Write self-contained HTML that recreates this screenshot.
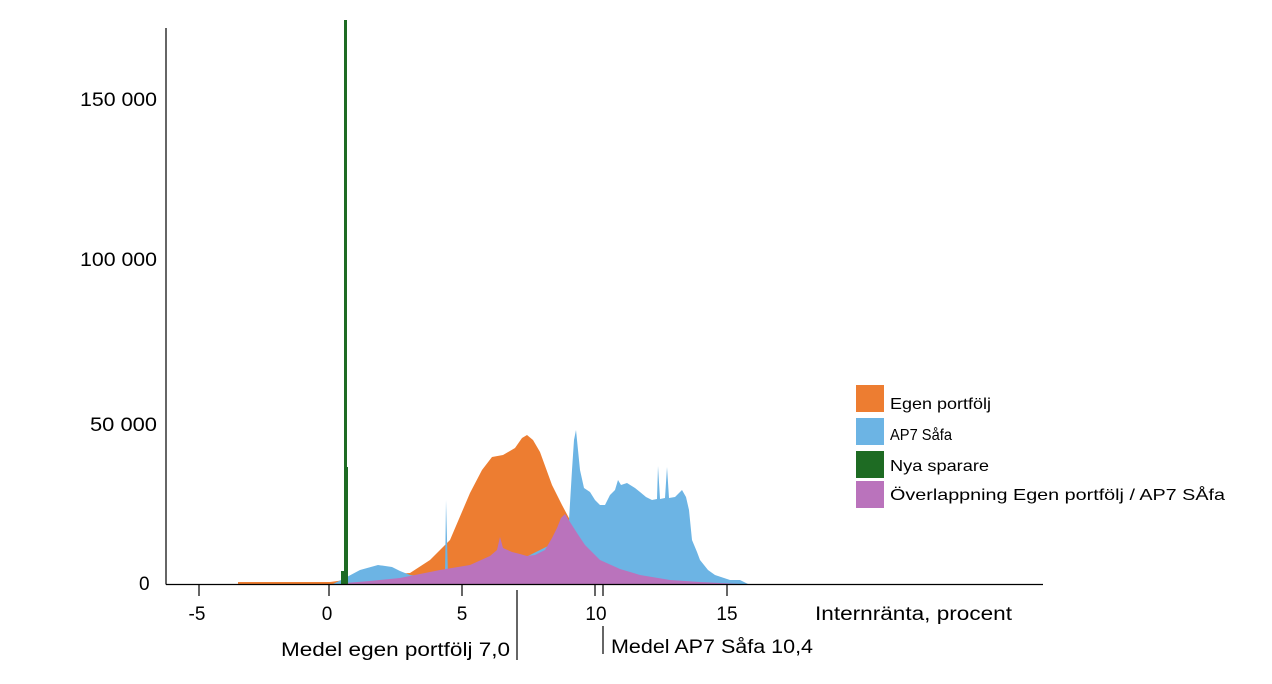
<!DOCTYPE html>
<html><head><meta charset="utf-8"><style>
body{margin:0;background:#fff;}
svg{display:block;font-family:"Liberation Sans",sans-serif;}
</style></head><body>
<svg width="1272" height="684" viewBox="0 0 1272 684">
<polygon fill="#ED7D31" points="238,584 238,582 330,582 345,580 380,575 410,573 430,560 450,540 470,493 482,470 492,457 503,455 515,448 522,438 527,435 533,440 540,452 552,485 562,505 570,520 580,560 590,584"/>
<polygon fill="#6CB4E4" points="333,584 345,578 360,570 378,565 392,567 400,571 410,575 440,578 445,577 446,500 448,577 500,570 560,540 569,520 572,470 574,440 576,430 578,450 580,470 584,488 590,492 595,500 600,505 605,505 610,495 615,490 618,480 621,485 627,483 635,488 640,492 646,497 652,500 657,499 658,466 660,499 665,498 667,467 669,498 675,497 682,490 686,497 689,510 692,540 697,552 700,560 708,570 715,575 730,580 740,580 748,584"/>
<polygon fill="#BA73BC" points="345,584 345,583 370,581 400,578 440,570 470,565 490,556 497,550 500,537 503,548 512,552 520,554 527,556 535,555 545,550 552,538 557,528 561,518 565,514 570,522 577,533 585,545 600,560 620,569 640,575 670,580 700,582 740,584"/>
<rect x="344" y="20" width="3" height="564" fill="#1E6B23"/>
<rect x="346" y="467" width="2" height="117" fill="#1E6B23"/>
<rect x="341" y="571" width="3" height="13" fill="#1E6B23"/>
<line x1="166" y1="28" x2="166" y2="584.5" stroke="#000" stroke-width="1.2"/>
<line x1="166" y1="584.5" x2="1043" y2="584.5" stroke="#000" stroke-width="1.2"/>
<g stroke="#000" stroke-width="1.2">
<line x1="199" y1="584" x2="199" y2="596"/>
<line x1="329" y1="584" x2="329" y2="596"/>
<line x1="462" y1="584" x2="462" y2="596"/>
<line x1="595" y1="584" x2="595" y2="596"/>
<line x1="727" y1="584" x2="727" y2="596"/>
<line x1="517" y1="590" x2="517" y2="660"/>
<line x1="603" y1="584" x2="603" y2="596"/>
<line x1="603" y1="626" x2="603" y2="654"/>
</g>
<g font-size="19" fill="#000">
<text x="80" y="106" textLength="77" lengthAdjust="spacingAndGlyphs">150 000</text>
<text x="80" y="266" textLength="77" lengthAdjust="spacingAndGlyphs">100 000</text>
<text x="90" y="431" textLength="67" lengthAdjust="spacingAndGlyphs">50 000</text>
<text x="139" y="590">0</text>
</g>
<g font-size="19" fill="#000" text-anchor="middle">
<text x="197" y="620">-5</text>
<text x="327" y="620">0</text>
<text x="462" y="620">5</text>
<text x="596" y="620">10</text>
<text x="727" y="620">15</text>
</g>
<g font-size="19" fill="#000">
<text x="815" y="620" textLength="197" lengthAdjust="spacingAndGlyphs">Internränta, procent</text>
<text x="281" y="656" textLength="229" lengthAdjust="spacingAndGlyphs">Medel egen portfölj 7,0</text>
<text x="611" y="653" textLength="202" lengthAdjust="spacingAndGlyphs">Medel AP7 Såfa 10,4</text>
</g>
<rect x="856" y="385" width="28" height="27" fill="#ED7D31"/>
<rect x="856" y="418" width="28" height="27" fill="#6CB4E4"/>
<rect x="856" y="451" width="28" height="27" fill="#1E6B23"/>
<rect x="856" y="481" width="28" height="27" fill="#BA73BC"/>
<g font-size="16" fill="#000">
<text x="890" y="409" textLength="101" lengthAdjust="spacingAndGlyphs">Egen portfölj</text>
<text x="890" y="440" textLength="62" lengthAdjust="spacingAndGlyphs">AP7 Såfa</text>
<text x="890" y="471" textLength="99" lengthAdjust="spacingAndGlyphs">Nya sparare</text>
<text x="890" y="500" textLength="335" lengthAdjust="spacingAndGlyphs">Överlappning Egen portfölj / AP7 SÅfa</text>
</g>
</svg>
</body></html>
